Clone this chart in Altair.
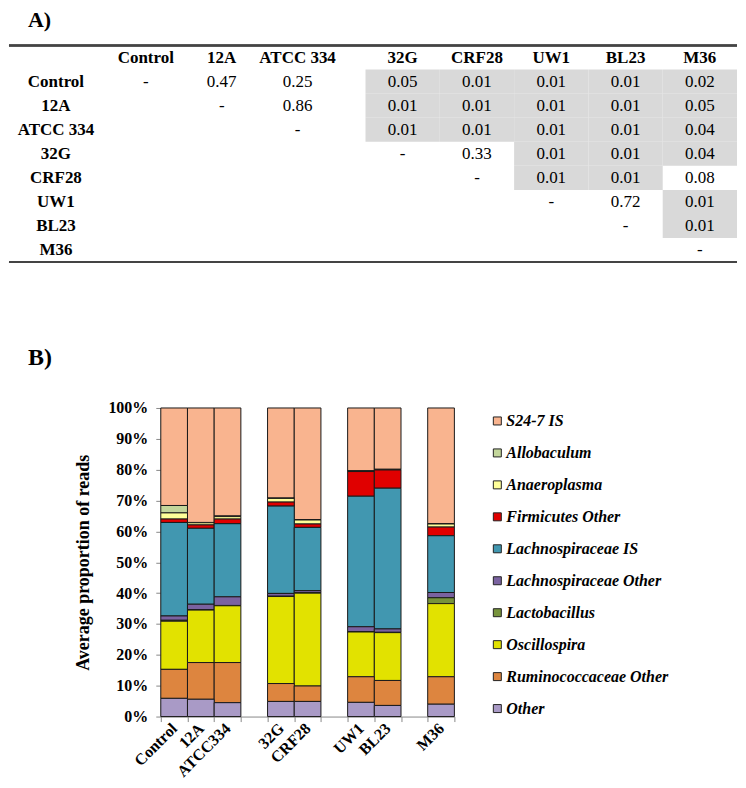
import altair as alt
import pandas as pd

FONT = "Liberation Serif"

# ---------------- Panel A: pairwise p-values ----------------
groups = ["Control", "12A", "ATCC 334", "32G", "CRF28", "UW1", "BL23", "M36"]
p_control = ["-", "0.47", "0.25", "0.05", "0.01", "0.01", "0.01", "0.02"]
p_12a = ["", "-", "0.86", "0.01", "0.01", "0.01", "0.01", "0.05"]
p_atcc334 = ["", "", "-", "0.01", "0.01", "0.01", "0.01", "0.04"]
p_32g = ["", "", "", "-", "0.33", "0.01", "0.01", "0.04"]
p_crf28 = ["", "", "", "", "-", "0.01", "0.01", "0.08"]
p_uw1 = ["", "", "", "", "", "-", "0.72", "0.01"]
p_bl23 = ["", "", "", "", "", "", "-", "0.01"]
p_m36 = ["", "", "", "", "", "", "", "-"]
pvalue_rows = [p_control, p_12a, p_atcc334, p_32g, p_crf28, p_uw1, p_bl23, p_m36]

# ---------------- Panel B: average proportion of reads (%) ----------------
bar_samples = ["Control", "12A", "ATCC334", "32G", "CRF28", "UW1", "BL23", "M36"]
taxa = ["S24-7 IS", "Allobaculum", "Anaeroplasma", "Firmicutes Other",
        "Lachnospiraceae IS", "Lachnospiraceae Other", "Lactobacillus",
        "Oscillospira", "Ruminococcaceae Other", "Other"]
s24_7_is = [31.6, 37.1, 35.0, 29.2, 36.2, 20.4, 19.9, 37.5]
allobaculum = [2.4, 0.1, 0.2, 0.1, 0.1, 0.0, 0.0, 0.1]
anaeroplasma = [2.0, 0.7, 0.8, 1.2, 1.3, 0.2, 0.2, 1.0]
firmicutes_other = [1.1, 1.1, 1.5, 1.3, 1.1, 8.0, 5.9, 2.8]
lachno_is = [30.3, 24.6, 23.7, 28.3, 20.5, 42.3, 45.6, 18.4]
lachno_other = [1.4, 1.8, 2.8, 0.9, 0.7, 1.6, 1.1, 1.7]
lactobacillus = [0.3, 0.1, 0.1, 0.1, 0.1, 0.1, 0.1, 1.9]
oscillospira = [15.6, 17.0, 18.4, 28.2, 30.1, 14.5, 15.5, 23.7]
rumino_other = [9.4, 11.9, 13.0, 5.8, 5.0, 8.3, 8.1, 8.9]
other = [5.9, 5.6, 4.5, 4.9, 4.9, 4.6, 3.6, 4.0]
series = [s24_7_is, allobaculum, anaeroplasma, firmicutes_other, lachno_is,
          lachno_other, lactobacillus, oscillospira, rumino_other, other]
colors = ["#F9B48F", "#C3D69B", "#FFFF99", "#E00000", "#4197B0",
          "#7A62A0", "#77933C", "#E2E200", "#DD853F", "#A99AC6"]
# category slots incl. empty gaps between strain groups
x_slots = ["Control", "12A", "ATCC334", " ", "32G", "CRF28", "  ", "UW1", "BL23", "   ", "M36"]

# ---------------- build tables ----------------
left_cols = groups[:3]
right_cols = groups[3:]
cells = []
for r, row in zip(groups, pvalue_rows):
    for c, v in zip(groups, row):
        if v == "":
            continue
        sig = (v != "-") and float(v) <= 0.05
        cells.append({"row": r, "col": c, "p": v, "sig": sig, "left": c in left_cols})
cells_df = pd.DataFrame(cells)
head_df = pd.DataFrame({"row": ["head"] * len(groups), "col": groups,
                        "left": [g in left_cols for g in groups]})
rowlab_df = pd.DataFrame({"row": groups})

# table plot origin shares the bar chart's plot origin (vconcat aligns plot areas);
# table content extends OFF to the left of it.
OFF = 152
TW, TH = 729 - OFF, 217
yS = alt.Scale(domain=["head"] + groups, paddingInner=0, paddingOuter=0)
xL = alt.Scale(domain=left_cols, range=[99 - OFF, 327 - OFF], paddingInner=0, paddingOuter=0)
xR = alt.Scale(domain=right_cols, range=[357 - OFF, TW], paddingInner=0, paddingOuter=0)

base_c = alt.Chart(cells_df)
gray = base_c.transform_filter("datum.sig").mark_rect(color="#D9D9D9").encode(
    x=alt.X("col:N", scale=xR, axis=None), y=alt.Y("row:N", scale=yS, axis=None))
txt_kw = dict(font=FONT, fontSize=17, color="black", baseline="middle", align="center")
vals_left = base_c.transform_filter("datum.left").mark_text(**txt_kw).encode(
    x=alt.X("col:N", scale=xL, axis=None), y=alt.Y("row:N", scale=yS, axis=None), text="p:N")
vals_right = base_c.transform_filter("!datum.left").mark_text(**txt_kw).encode(
    x=alt.X("col:N", scale=xR, axis=None), y=alt.Y("row:N", scale=yS, axis=None), text="p:N")
base_h = alt.Chart(head_df)
head_left = base_h.transform_filter("datum.left").mark_text(fontWeight="bold", **txt_kw).encode(
    x=alt.X("col:N", scale=xL, axis=None), y=alt.Y("row:N", scale=yS, axis=None), text="col:N")
head_right = base_h.transform_filter("!datum.left").mark_text(fontWeight="bold", **txt_kw).encode(
    x=alt.X("col:N", scale=xR, axis=None), y=alt.Y("row:N", scale=yS, axis=None), text="col:N")
row_labels = alt.Chart(rowlab_df).mark_text(fontWeight="bold", **txt_kw).encode(
    x=alt.value(47 - OFF), y=alt.Y("row:N", scale=yS, axis=None), text="row:N")
top_line = alt.Chart(rowlab_df).mark_rule(color="#444444", strokeWidth=1.5).encode(
    x=alt.value(-OFF), x2=alt.value(TW), y=alt.value(0))
bot_line = alt.Chart(rowlab_df).mark_rule(color="#444444", strokeWidth=1.5).encode(
    x=alt.value(-OFF), x2=alt.value(TW), y=alt.value(TH))

table = alt.layer(gray, vals_left, vals_right, head_left, head_right, row_labels,
                  top_line, bot_line).resolve_scale(x="independent").properties(
    width=TW, height=TH,
    title=alt.TitleParams("A)", anchor="start", frame="group", fontSize=22, font=FONT,
                          fontWeight="bold", dx=19 - OFF, offset=13))

# ---------------- bar chart ----------------
rank = {t: len(taxa) - 1 - i for i, t in enumerate(taxa)}
recs = []
for t, vals in zip(taxa, series):
    for s, v in zip(bar_samples, vals):
        recs.append({"sample": s, "taxon": t, "share": v / 100.0, "stack": rank[t]})
bar_df = pd.DataFrame(recs)

bars = alt.Chart(bar_df).mark_bar(stroke="#1a1a1a", strokeWidth=1).encode(
    x=alt.X("sample:N", sort=x_slots,
            scale=alt.Scale(domain=x_slots, paddingInner=0, paddingOuter=0),
            axis=alt.Axis(title=None, labelAngle=-45, labelAlign="right",
                          labelBaseline="middle", labelFont=FONT, labelFontSize=16,
                          labelFontWeight="bold", labelColor="black",
                          tickBand="extent", tickSize=5, tickColor="#888888",
                          domainColor="#888888", labelPadding=4)),
    y=alt.Y("share:Q", stack="zero", scale=alt.Scale(domain=[0, 1]),
            axis=alt.Axis(format=".0%", values=[i / 10 for i in range(11)],
                          title="Average proportion of reads", titleFont=FONT,
                          titleFontSize=18, titleFontWeight="bold", titleColor="black",
                          titlePadding=15, labelFont=FONT, labelFontSize=16,
                          labelFontWeight="bold", labelColor="black", tickSize=5,
                          tickColor="#888888", domainColor="#888888", grid=False,
                          labelPadding=8)),
    color=alt.Color("taxon:N", scale=alt.Scale(domain=taxa, range=colors),
                    legend=alt.Legend(title=None, orient="none", legendX=329, legendY=5,
                                      symbolType="square", symbolSize=64,
                                      symbolStrokeColor="#222222", symbolStrokeWidth=1,
                                      symbolOpacity=1, labelFont=FONT, labelFontSize=16,
                                      labelFontStyle="italic", labelFontWeight="bold",
                                      labelColor="black", rowPadding=16, labelOffset=1,
                                      labelLimit=300)),
    order=alt.Order("stack:Q", sort="ascending"),
).properties(
    width=294, height=309,
    title=alt.TitleParams("B)", anchor="start", frame="group",
                          fontSize=24, font=FONT, fontWeight="bold", dx=19 - OFF, offset=30))

chart = alt.vconcat(table, bars, spacing=83).resolve_scale(
    color="independent").resolve_legend(color="independent").properties(
    padding=0, background="white").configure_view(stroke=None)

chart.save("out.html", embed_options={"renderer": "svg", "actions": False})
